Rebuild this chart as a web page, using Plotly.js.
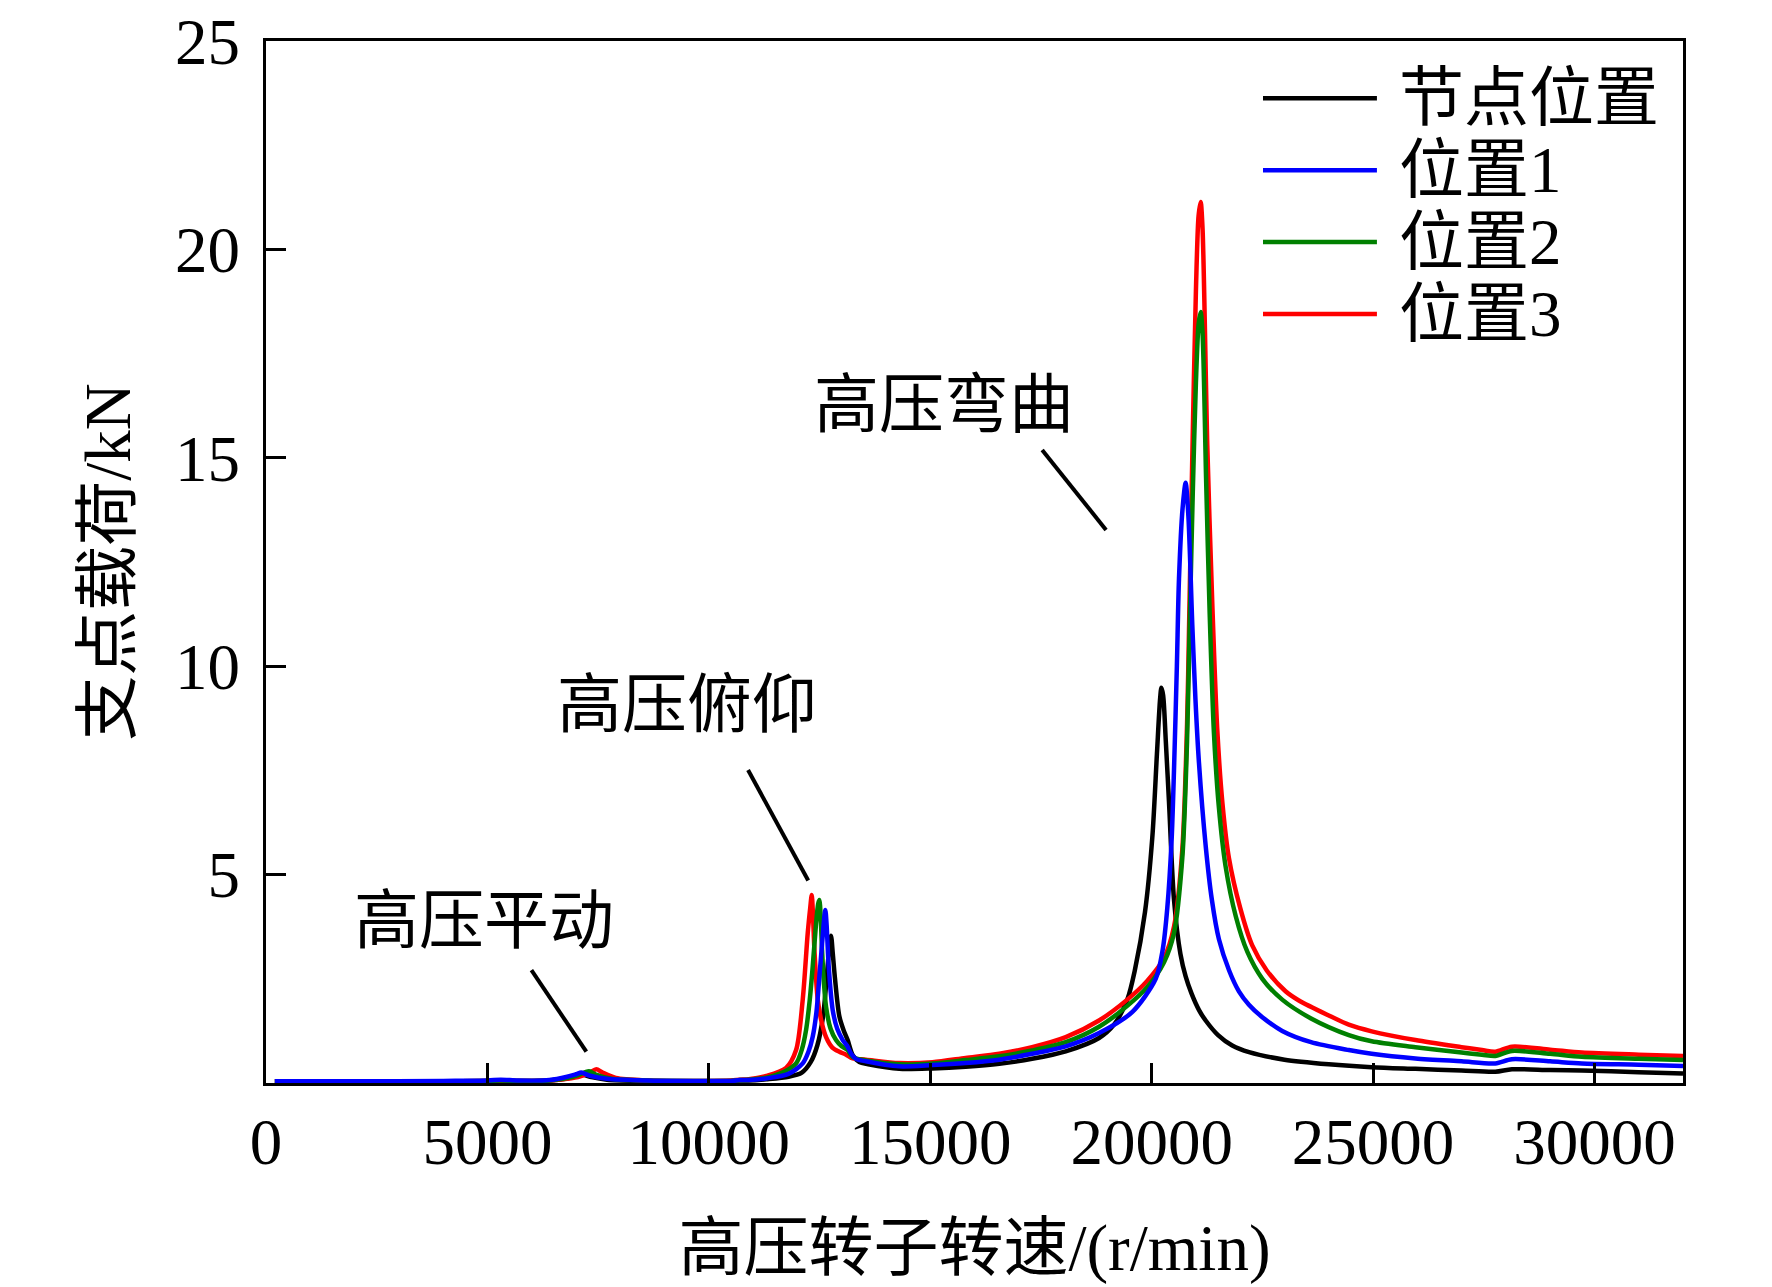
<!DOCTYPE html>
<html>
<head>
<meta charset="utf-8">
<script src="https://cdn.plot.ly/plotly-3.0.1.min.js"></script>
<style>
  html, body { margin: 0; padding: 0; background: #fff; }
  #chart { width: 1772px; height: 1287px; }
</style>
</head>
<body>
<div id="chart"></div>
<script>
// series values (rpm, kN)
var nodeX = [200, 2000, 4000, 5000, 5350, 5700, 6400, 6800, 7000, 7150, 7350, 7700, 8600, 9800, 10500, 10700, 10900, 11300, 11800, 12100, 12300, 12450, 12580, 12660, 12720, 12760, 12800, 12850, 12948, 13050, 13136, 13249, 13400, 13600, 14300, 15050, 15800, 16560, 17300, 18060, 18813, 19150, 19450, 19620, 19850, 20016, 20120, 20190, 20220, 20260, 20320, 20392, 20505, 20650, 20770, 20900, 21070, 21220, 21500, 21820, 22200, 23000, 24000, 24970, 25957, 27000, 27761, 28136, 29000, 29715, 31000, 32000];
var nodeY = [0.04, 0.04, 0.04, 0.05, 0.06, 0.05, 0.06, 0.11, 0.16, 0.2, 0.14, 0.08, 0.05, 0.04, 0.05, 0.06, 0.06, 0.09, 0.15, 0.25, 0.5, 0.9, 1.6, 2.5, 3.25, 3.53, 3.1, 2.5, 1.6, 1.25, 1.03, 0.67, 0.5, 0.45, 0.34, 0.35, 0.39, 0.46, 0.58, 0.76, 1.08, 1.4, 2.0, 2.7, 4.1, 5.9, 7.9, 9.2, 9.48, 9.3, 8.2, 6.75, 4.4, 3.1, 2.55, 2.15, 1.75, 1.5, 1.15, 0.9, 0.74, 0.56, 0.45, 0.38, 0.34, 0.3, 0.27, 0.33, 0.31, 0.3, 0.26, 0.23];

var pos1X = [200, 2000, 4000, 5000, 5300, 5700, 6400, 6800, 7000, 7121, 7300, 7700, 8600, 9800, 10500, 10700, 10900, 11300, 11800, 12121, 12250, 12346, 12430, 12497, 12570, 12610, 12632, 12660, 12708, 12798, 12900, 13024, 13120, 13211, 13324, 13550, 14300, 15050, 15800, 16560, 17300, 18060, 18813, 19560, 20092, 20250, 20354, 20450, 20505, 20570, 20618, 20700, 20768, 20830, 20918, 20990, 21068, 21220, 21360, 21520, 21750, 21971, 22197, 22500, 22949, 23600, 24453, 24970, 25957, 27000, 27761, 28136, 29000, 29715, 31000, 32000];
var pos1Y = [0.04, 0.04, 0.05, 0.06, 0.08, 0.06, 0.07, 0.15, 0.21, 0.25, 0.18, 0.1, 0.06, 0.05, 0.05, 0.07, 0.07, 0.11, 0.22, 0.47, 0.75, 1.11, 1.7, 2.55, 3.5, 4.0, 4.15, 3.8, 2.79, 1.75, 1.3, 1.03, 0.9, 0.71, 0.58, 0.52, 0.4, 0.43, 0.48, 0.56, 0.7, 0.88, 1.2, 1.7, 2.5, 3.2, 4.2, 5.8, 7.5, 10.0, 12.1, 13.8, 14.4, 13.6, 11.0, 9.2, 7.7, 5.7, 4.4, 3.45, 2.7, 2.2, 1.88, 1.58, 1.25, 0.98, 0.79, 0.7, 0.59, 0.52, 0.47, 0.57, 0.52, 0.47, 0.44, 0.41];

var pos2X = [200, 2000, 4000, 5000, 5300, 5700, 6400, 6800, 7000, 7293, 7450, 7800, 8600, 9800, 10500, 10700, 10900, 11300, 11700, 11971, 12100, 12196, 12280, 12346, 12420, 12470, 12497, 12530, 12557, 12600, 12648, 12750, 12873, 13000, 13136, 13250, 13550, 14300, 15050, 15800, 16560, 17300, 18060, 18813, 19450, 19900, 20280, 20505, 20693, 20800, 20860, 20930, 21000, 21060, 21107, 21150, 21230, 21310, 21407, 21520, 21670, 21900, 22160, 22500, 22949, 23600, 24453, 24970, 25957, 27000, 27461, 27761, 28136, 29000, 29715, 31000, 32000];
var pos2Y = [0.04, 0.04, 0.04, 0.05, 0.06, 0.05, 0.06, 0.12, 0.17, 0.28, 0.2, 0.1, 0.06, 0.05, 0.05, 0.07, 0.08, 0.13, 0.27, 0.47, 0.8, 1.27, 2.0, 2.79, 3.8, 4.3, 4.39, 3.9, 3.19, 2.4, 1.83, 1.3, 1.03, 0.88, 0.79, 0.62, 0.54, 0.45, 0.47, 0.55, 0.64, 0.78, 0.98, 1.35, 1.85, 2.3, 2.9, 3.6, 5.4, 8.2, 11.0, 14.2, 16.8, 18.2, 18.5, 18.0, 14.5, 11.3, 8.4, 6.6, 5.2, 4.0, 3.15, 2.5, 2.0, 1.55, 1.15, 1.0, 0.86, 0.73, 0.68, 0.65, 0.77, 0.7, 0.63, 0.58, 0.55];

var pos3X = [200, 2000, 4000, 5000, 5300, 5700, 6400, 6800, 7100, 7300, 7459, 7600, 7900, 8600, 9800, 10500, 10700, 10900, 11300, 11745, 11971, 12121, 12234, 12290, 12324, 12350, 12385, 12460, 12550, 12648, 12790, 12948, 13100, 13249, 13550, 14300, 15050, 15800, 16560, 17300, 18060, 18813, 19450, 19900, 20280, 20505, 20693, 20800, 20843, 20918, 21000, 21060, 21107, 21150, 21257, 21370, 21481, 21600, 21745, 22000, 22272, 22600, 23024, 23325, 24000, 24453, 24970, 25957, 27000, 27460, 27761, 28136, 29000, 29715, 31000, 32000];
var pos3Y = [0.04, 0.04, 0.04, 0.05, 0.06, 0.05, 0.06, 0.1, 0.16, 0.24, 0.33, 0.25, 0.12, 0.06, 0.05, 0.06, 0.08, 0.09, 0.17, 0.36, 0.79, 2.0, 3.6, 4.2, 4.51, 4.1, 3.19, 2.0, 1.45, 1.1, 0.85, 0.75, 0.68, 0.59, 0.56, 0.48, 0.5, 0.6, 0.7, 0.86, 1.1, 1.5, 2.0, 2.45, 3.0, 3.75, 5.6, 8.6, 10.8, 15.0, 19.0, 20.8, 21.14, 20.5, 15.3, 11.5, 8.5, 6.7, 5.4, 4.2, 3.3, 2.7, 2.2, 1.98, 1.62, 1.4, 1.24, 1.03, 0.86, 0.79, 0.75, 0.87, 0.8, 0.73, 0.68, 0.65];

var seriesNames  = ['节点位置', '位置1', '位置2', '位置3'];
var seriesColors = ['#000000', '#0000ff', '#008000', '#ff0000'];

var xTicks = [0, 5000, 10000, 15000, 20000, 25000, 30000];
var yTicks = [5, 10, 15, 20, 25];

// mode labels and the end points of their pointer lines (data coords)
var modeLabels = ['高压平动', '高压俯仰', '高压弯曲'];
var labelX     = [4918, 9497, 15317];
var labelY     = [3.89, 9.07, 16.27];
var pointerX0  = [5994, 10886, 17528];
var pointerY0  = [2.71, 7.51, 15.19];
var pointerX1  = [7234, 12245, 18971];
var pointerY1  = [0.75, 4.86, 13.27];

var FONT = '"Liberation Serif", "Times New Roman", "Noto Sans CJK SC", serif';

function line(x, y, i) {
    return {
        x: x, y: y, name: seriesNames[i],
        type: 'scatter', mode: 'lines',
        line: { color: seriesColors[i], width: 4.5, shape: 'spline', smoothing: 0.8 },
        showlegend: false
    };
}

// draw order: black, red, green, blue on top
var data = [
    line(nodeX, nodeY, 0),
    line(pos3X, pos3Y, 3),
    line(pos2X, pos2Y, 2),
    line(pos1X, pos1Y, 1)
];

var shapes = [];
var annotations = [];

for (var i = 0; i < modeLabels.length; i++) {
    annotations.push({
        x: labelX[i], y: labelY[i], xref: 'x', yref: 'y',
        text: modeLabels[i], showarrow: false,
        font: { family: FONT, size: 65, color: '#000' }
    });
    shapes.push({
        type: 'line', xref: 'x', yref: 'y',
        x0: pointerX0[i], y0: pointerY0[i], x1: pointerX1[i], y1: pointerY1[i],
        line: { color: '#000', width: 4 }
    });
}

// hand made legend, the built in one has fixed short sample lines
var legTop = 0.945, legStep = 0.069;
for (var k = 0; k < seriesNames.length; k++) {
    var ly = legTop - k * legStep;
    shapes.push({
        type: 'line', xref: 'paper', yref: 'paper',
        x0: 0.7036, x1: 0.784, y0: ly, y1: ly,
        line: { color: seriesColors[k], width: 4.5 }
    });
    annotations.push({
        x: 0.798, y: ly, xref: 'paper', yref: 'paper',
        xanchor: 'left', yanchor: 'middle',
        text: seriesNames[k], showarrow: false,
        font: { family: FONT, size: 65, color: '#000' }
    });
}

var layout = {
    width: 1772,
    height: 1287,
    margin: { l: 266, r: 89, t: 41, b: 204 },
    paper_bgcolor: '#fff',
    plot_bgcolor: '#fff',
    font: { family: FONT, size: 65, color: '#000' },
    xaxis: {
        range: [0, 32000],
        tickvals: xTicks,
        ticktext: xTicks.map(String),
        ticks: 'inside', ticklen: 20, tickwidth: 3, tickcolor: '#000',
        showline: true, linewidth: 3, linecolor: '#000', mirror: true,
        showgrid: false, zeroline: false,
        tickfont: { family: FONT, size: 65 },
        ticklabelstandoff: 0,
        title: { text: '高压转子转速/(r/min)', font: { family: FONT, size: 65 }, standoff: 48 }
    },
    yaxis: {
        range: [0, 25],
        tickvals: yTicks,
        ticks: 'inside', ticklen: 20, tickwidth: 3, tickcolor: '#000',
        showline: true, linewidth: 3, linecolor: '#000', mirror: true,
        showgrid: false, zeroline: false,
        tickfont: { family: FONT, size: 65 },
        ticklabelstandoff: 10,
        title: { text: '支点载荷/kN', font: { family: FONT, size: 65 }, standoff: 24 }
    },
    shapes: shapes,
    annotations: annotations
};

Plotly.newPlot('chart', data, layout, { staticPlot: true });
</script>
</body>
</html>
